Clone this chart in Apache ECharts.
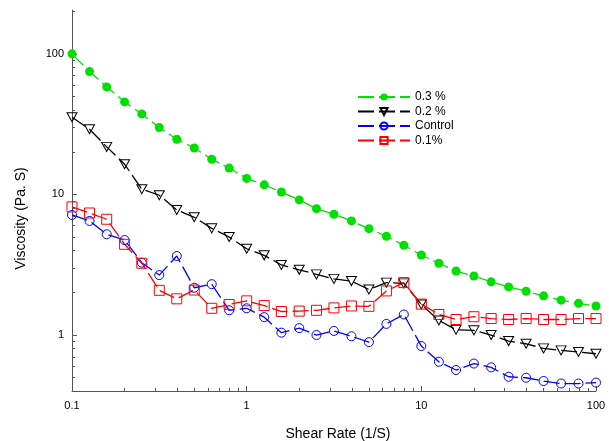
<!DOCTYPE html>
<html>
<head>
<meta charset="utf-8">
<script src="https://cdn.jsdelivr.net/npm/echarts@6/dist/echarts.min.js"></script>
<style>
  html, body { margin: 0; padding: 0; background: #fff; }
  #chart { width: 609px; height: 441px; }
</style>
</head>
<body>
<div id="chart"></div>
<script>
// shear rate (1/S), 10 points per decade
const shearRate = [0.1, 0.126, 0.158, 0.2, 0.251, 0.316, 0.398, 0.501, 0.631, 0.794,
  1, 1.26, 1.58, 2, 2.51, 3.16, 3.98, 5.01, 6.31, 7.94,
  10, 12.6, 15.8, 20, 25.1, 31.6, 39.8, 50.1, 63.1, 79.4, 100];

// viscosity (Pa. S)
const visc03 = [100, 74.8, 58.2, 45.5, 37.4, 29.9, 24.7, 21.4, 17.8, 15.4,
  13.0, 11.7, 10.4, 9.14, 7.92, 7.23, 6.48, 5.71, 5.04, 4.35,
  3.71, 3.24, 2.85, 2.63, 2.39, 2.20, 2.05, 1.90, 1.77, 1.68, 1.61];
const visc02 = [35.4, 29.1, 21.8, 16.4, 10.9, 9.87, 7.76, 6.88, 5.74, 4.98,
  4.11, 3.69, 3.15, 2.91, 2.70, 2.51, 2.42, 2.11, 2.36, 2.33,
  1.65, 1.27, 1.09, 1.08, 1.0, 0.906, 0.867, 0.804, 0.778, 0.757, 0.736];
const viscControl = [7.15, 6.48, 5.21, 4.74, 3.27, 2.67, 3.65, 2.17, 2.30, 1.50,
  1.55, 1.34, 1.04, 1.12, 1.00, 1.07, 0.98, 0.89, 1.20, 1.40,
  0.835, 0.646, 0.564, 0.627, 0.589, 0.505, 0.497, 0.471, 0.452, 0.452, 0.459];
const visc01 = [8.15, 7.38, 6.66, 4.42, 3.24, 2.08, 1.81, 2.09, 1.55, 1.65,
  1.75, 1.62, 1.47, 1.48, 1.50, 1.56, 1.61, 1.60, 2.06, 2.36,
  1.66, 1.40, 1.29, 1.35, 1.31, 1.29, 1.31, 1.29, 1.29, 1.31, 1.31];

const seriesNames = ["0.3 %", "0.2 %", "Control", "0.1%"];

const xTicks = [0.1, 1, 10, 100];
const yTicks = [1, 10, 100];
const xMinorTicks = [0.2, 0.3, 0.4, 0.5, 0.6, 0.7, 0.8, 0.9, 2, 3, 4, 5, 6, 7, 8, 9,
  20, 30, 40, 50, 60, 70, 80, 90];
const yMinorTicks = [0.4, 0.5, 0.6, 0.7, 0.8, 0.9, 2, 3, 4, 5, 6, 7, 8, 9,
  20, 30, 40, 50, 60, 70, 80, 90, 200];

const font = "Liberation Sans, Arial, sans-serif";
const axisColor = "#555";
const dash = [16, 5];

function pairs(arr) {
  return shearRate.map((x, i) => [x, arr[i]]);
}

const chart = echarts.init(document.getElementById("chart"));

const xBase = {
  type: "log",
  logBase: 10,
  min: 0.1,
  max: 100,
  position: "bottom",
  splitLine: { show: false },
};
const yBase = {
  type: "log",
  logBase: 10,
  min: 0.4,
  max: 205,
  position: "left",
  splitLine: { show: false },
};

const option = {
  animation: false,
  backgroundColor: "#fff",
  grid: { left: 72, right: 13, top: 10, bottom: 50, outerBoundsMode: "none", containLabel: false },
  legend: {
    data: seriesNames,
    orient: "vertical",
    left: 352,
    top: 86,
    itemWidth: 52,
    itemHeight: 9,
    itemGap: 2.5,
    textStyle: { fontFamily: font, fontSize: 12, color: "#000" },
  },
  xAxis: [
    Object.assign({}, xBase, {
      name: "Shear Rate (1/S)",
      nameLocation: "middle",
      nameGap: 36,
      nameTextStyle: { fontFamily: font, fontSize: 14, color: "#000", padding: [0, 0, 0, 8] },
      axisLine: { lineStyle: { color: axisColor, width: 1 } },
      axisTick: { inside: true, length: 5, lineStyle: { color: axisColor }, customValues: xTicks },
      axisLabel: {
        customValues: xTicks,
        fontFamily: font, fontSize: 11, color: "#000", margin: 9,
        formatter: (v) => String(+v.toPrecision(3)),
      },
    }),
    Object.assign({}, xBase, {
      axisLine: { show: false },
      axisTick: { show: true, inside: true, length: 3, lineStyle: { color: axisColor }, customValues: xMinorTicks },
      axisLabel: { show: false },
    }),
  ],
  yAxis: [
    Object.assign({}, yBase, {
      name: "Viscosity (Pa. S)",
      nameLocation: "middle",
      nameGap: 44,
      nameTextStyle: { fontFamily: font, fontSize: 14, color: "#000", padding: [0, 36, 0, 0] },
      axisLine: { show: true, lineStyle: { color: axisColor, width: 1 } },
      axisTick: { show: true, inside: true, length: 5, lineStyle: { color: axisColor }, customValues: yTicks },
      axisLabel: {
        customValues: yTicks,
        fontFamily: font, fontSize: 11, color: "#000", margin: 8,
        formatter: (v) => String(Math.round(v)),
      },
    }),
    Object.assign({}, yBase, {
      axisLine: { show: false },
      axisTick: { show: true, inside: true, length: 3, lineStyle: { color: axisColor }, customValues: yMinorTicks },
      axisLabel: { show: false },
    }),
  ],
  series: [
    {
      name: seriesNames[0],
      type: "line",
      data: pairs(visc03),
      symbol: "circle",
      symbolSize: 9,
      itemStyle: { color: "#00e000" },
      lineStyle: { color: "#00e000", width: 1.3, type: dash },
    },
    {
      name: seriesNames[1],
      type: "line",
      data: pairs(visc02),
      symbol: "path://M0,0L10,0L5,9Z",
      symbolSize: [10, 9],
      itemStyle: { color: "rgba(0,0,0,0)", borderColor: "#000", borderWidth: 1 },
      lineStyle: { color: "#000", width: 1.3, type: dash },
    },
    {
      name: seriesNames[2],
      type: "line",
      data: pairs(viscControl),
      symbol: "circle",
      symbolSize: 9,
      itemStyle: { color: "rgba(0,0,0,0)", borderColor: "#0000ff", borderWidth: 1 },
      lineStyle: { color: "#0000ff", width: 1.3, type: dash },
    },
    {
      name: seriesNames[3],
      type: "line",
      data: pairs(visc01),
      symbol: "rect",
      symbolSize: 10,
      itemStyle: { color: "rgba(0,0,0,0)", borderColor: "#ff0000", borderWidth: 1 },
      lineStyle: { color: "#ff0000", width: 1.3, type: dash },
    },
  ],
};

chart.setOption(option);
</script>
</body>
</html>
